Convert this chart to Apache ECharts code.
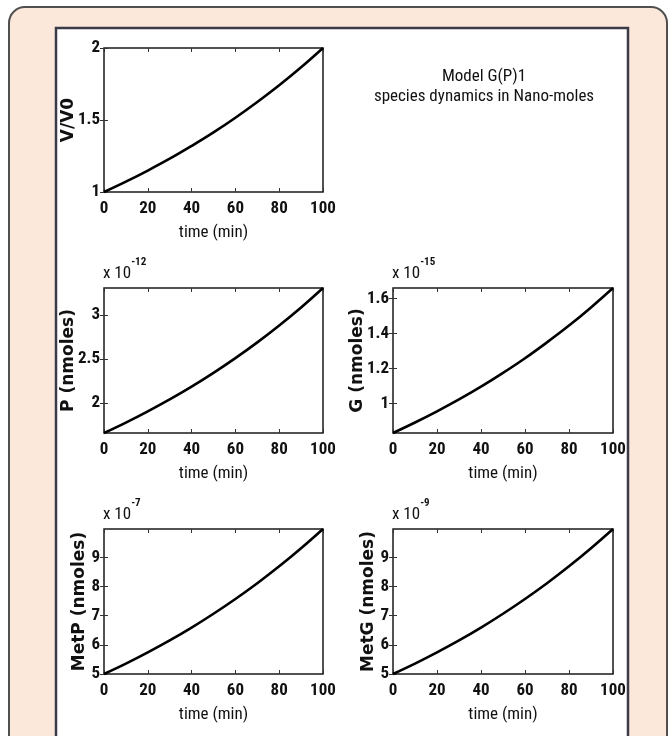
<!DOCTYPE html>
<html>
<head>
<meta charset="utf-8">
<script src="https://cdn.jsdelivr.net/npm/echarts@6/dist/echarts.min.js"></script>
<style>
html,body{margin:0;padding:0;background:#fff;}
#chart{width:669px;height:736px;}
</style>
</head>
<body>
<div id="chart"></div>
<script>
// ---- data ----
const times = [0, 10, 20, 30, 40, 50, 60, 70, 80, 90, 100];
const vRatio = [1.000, 1.072, 1.149, 1.231, 1.320, 1.414, 1.516, 1.625, 1.741, 1.866, 2.000];
const pValues = [1.655, 1.774, 1.902, 2.038, 2.184, 2.341, 2.509, 2.689, 2.882, 3.088, 3.310];
const gValues = [0.830, 0.890, 0.954, 1.022, 1.095, 1.174, 1.258, 1.349, 1.445, 1.549, 1.660];
const metPValues = [5.000, 5.355, 5.740, 6.150, 6.590, 7.065, 7.570, 8.110, 8.690, 9.310, 9.970];
const metGValues = [5.000, 5.355, 5.740, 6.150, 6.590, 7.065, 7.570, 8.110, 8.690, 9.310, 9.970];

const xTicks = [0, 20, 40, 60, 80, 100];
const vTicks = [1, 1.5, 2];
const pTicks = [2, 2.5, 3];
const gTicks = [1, 1.2, 1.4, 1.6];
const metPTicks = [5, 6, 7, 8, 9];
const metGTicks = [5, 6, 7, 8, 9];

const yNames = ['V/V0', 'P (nmoles)', 'G (nmoles)', 'MetP (nmoles)', 'MetG (nmoles)'];
const exponents = ['', '-12', '-15', '-7', '-9'];
const xName = 'time (min)';
const titleLines = ['Model G(P)1', 'species dynamics in Nano-moles'];

// ---- layout ----
const NARROW = '"Roboto Condensed", "Liberation Sans", Arial, sans-serif';
const WIDE = '"DejaVu Sans", "Liberation Sans", Arial, sans-serif';

const panels = [
  {values: vRatio,     ticks: vTicks,    min: 1,     max: 2,    grid: {left: 104, top: 48,  width: 219, height: 144}, nameGap: 27},
  {values: pValues,    ticks: pTicks,    min: 1.655, max: 3.31, grid: {left: 104, top: 288, width: 219, height: 145}, nameGap: 27},
  {values: gValues,    ticks: gTicks,    min: 0.83,  max: 1.66, grid: {left: 393, top: 288, width: 220, height: 145}, nameGap: 27},
  {values: metPValues, ticks: metPTicks, min: 5,     max: 9.97, grid: {left: 104, top: 529, width: 219, height: 145}, nameGap: 16},
  {values: metGValues, ticks: metGTicks, min: 5,     max: 9.97, grid: {left: 393, top: 529, width: 220, height: 145}, nameGap: 16}
];

const grids = [], xAxes = [], yAxes = [], series = [], graphics = [];

graphics.push({
  type: 'rect', z: -10, silent: true,
  shape: {x: 9, y: 7, width: 658, height: 780, r: 16},
  style: {fill: '#FCE8DA', stroke: '#505050', lineWidth: 2}
});
graphics.push({
  type: 'rect', z: -9, silent: true,
  shape: {x: 56, y: 28, width: 572, height: 760},
  style: {fill: '#ffffff', stroke: '#3a3a48', lineWidth: 2.5}
});

graphics.push({
  type: 'text', z: 5,
  style: {
    text: titleLines.join('\n'), x: 484, y: 67,
    align: 'center', verticalAlign: 'top', lineHeight: 20,
    fontFamily: NARROW, fontSize: 17, fill: '#111'
  }
});

const tickStyle = {show: true, inside: true, length: 4, lineStyle: {color: '#333', width: 1}};

panels.forEach((p, i) => {
  grids.push(Object.assign({show: true, backgroundColor: '#fff', borderColor: '#1a1a1a', borderWidth: 1.5}, p.grid));
  // bottom x axis
  xAxes.push({
    gridIndex: i, type: 'value', min: 0, max: 100, interval: 20, position: 'bottom',
    axisLine: {show: false}, splitLine: {show: false},
    axisTick: Object.assign({}, tickStyle),
    axisLabel: {margin: 8, color: '#111', fontFamily: NARROW, fontSize: 17, fontWeight: 'bold',
      customValues: xTicks},
    name: xName, nameLocation: 'middle', nameGap: 32, nameMoveOverlap: false,
    nameTextStyle: {color: '#111', fontFamily: NARROW, fontSize: 17}
  });
  // top x axis (box ticks)
  xAxes.push({
    gridIndex: i, type: 'value', min: 0, max: 100, interval: 20, position: 'top',
    axisLine: {show: false}, splitLine: {show: false},
    axisTick: Object.assign({}, tickStyle), axisLabel: {show: false}
  });
  // left y axis
  yAxes.push({
    gridIndex: i, type: 'value', min: p.min, max: p.max, position: 'left',
    axisLine: {show: false}, splitLine: {show: false},
    axisTick: Object.assign({customValues: p.ticks}, tickStyle),
    axisLabel: {margin: 4, color: '#111', fontFamily: NARROW, fontSize: 17, fontWeight: 'bold',
      customValues: p.ticks},
    name: yNames[i], nameLocation: 'middle', nameGap: p.nameGap, nameMoveOverlap: false,
    nameTextStyle: {color: '#111', fontFamily: WIDE, fontSize: 17, fontWeight: 'bold'}
  });
  // right y axis (box ticks)
  yAxes.push({
    gridIndex: i, type: 'value', min: p.min, max: p.max, position: 'right',
    axisLine: {show: false}, splitLine: {show: false},
    axisTick: Object.assign({customValues: p.ticks}, tickStyle),
    axisLabel: {show: false}
  });
  series.push({
    type: 'line', xAxisIndex: 2 * i, yAxisIndex: 2 * i,
    data: times.map((t, k) => [t, p.values[k]]),
    smooth: 0.4, symbol: 'none', clip: false,
    lineStyle: {color: '#000', width: 2.6}
  });
  if (exponents[i]) {
    graphics.push({
      type: 'text', z: 5,
      style: {
        text: '{a|x 10}{b|' + exponents[i] + '}',
        x: p.grid.left - 1, y: p.grid.top - 31,
        align: 'left', verticalAlign: 'top',
        rich: {
          a: {fontFamily: NARROW, fontSize: 17, lineHeight: 25, verticalAlign: 'bottom', fill: '#111'},
          b: {fontFamily: NARROW, fontSize: 11, lineHeight: 25, verticalAlign: 'top', fill: '#111', fontWeight: 'bold'}
        }
      }
    });
  }
});

const chart = echarts.init(document.getElementById('chart'), null, {renderer: 'canvas'});
chart.setOption({
  animation: false,
  backgroundColor: '#ffffff',
  grid: grids,
  xAxis: xAxes,
  yAxis: yAxes,
  series: series,
  graphic: graphics
});
</script>
</body>
</html>
